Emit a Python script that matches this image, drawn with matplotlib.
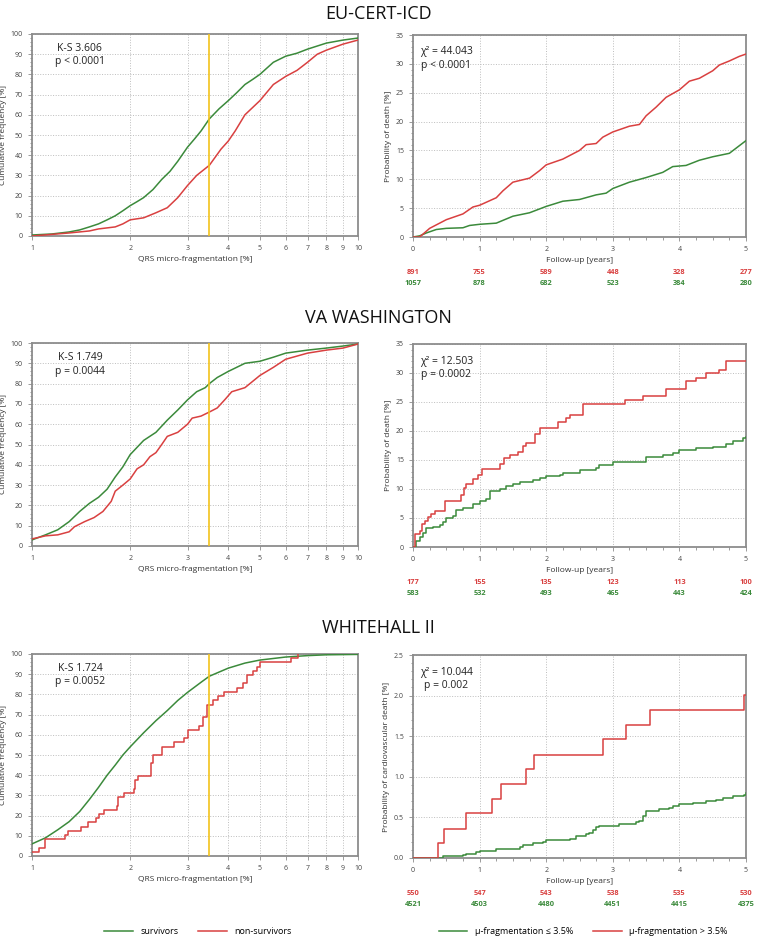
import matplotlib
matplotlib.use("Agg")
import matplotlib.pyplot as plt
from matplotlib.ticker import FixedLocator, MultipleLocator, NullLocator, NullFormatter
from matplotlib.lines import Line2D
import matplotlib.transforms as mtrans

plt.rcParams['font.family'] = ['Open Sans', 'DejaVu Sans']

GREEN = '#3b8a3b'
RED = '#d94040'
YELLOW = '#f2c21b'
SPINE = '#8c8c8c'
GRID = '#bdbdbd'

titles = ["EU-CERT-ICD", "VA WASHINGTON", "WHITEHALL II"]

# ---------- Cumulative distributions (left panels) ----------
eu_surv_x = [1, 1.15, 1.3, 1.4, 1.5, 1.6, 1.7, 1.8, 1.9, 2.0, 2.1, 2.2, 2.35, 2.5, 2.65, 2.8, 3.0, 3.15, 3.3, 3.5, 3.75, 4.0, 4.25, 4.5, 4.75, 5.0, 5.5, 6.0, 6.5, 7.0, 8.0, 9.0, 10.0]
eu_surv_y = [0.5, 1.0, 2, 3, 4.5, 6, 8, 10, 12.5, 15, 17, 19, 23, 28, 32, 37, 44, 48, 52, 58, 63, 67, 71, 75, 77.5, 80, 86, 89, 90.5, 92.5, 95.5, 97, 98]
eu_non_x = [1, 1.3, 1.5, 1.6, 1.8, 1.9, 2.0, 2.2, 2.4, 2.6, 2.8, 3.0, 3.2, 3.5, 3.8, 4.0, 4.2, 4.5, 5.0, 5.5, 6.0, 6.5, 7.0, 7.5, 8.0, 9.0, 10.0]
eu_non_y = [0, 1.5, 2.5, 3.5, 4.5, 6, 8, 9, 11.5, 14, 19, 25, 30, 35, 43, 47, 52, 60, 67, 75, 79, 82, 86, 90, 92, 95, 97]

va_surv_x = [1, 1.1, 1.2, 1.3, 1.4, 1.5, 1.6, 1.7, 1.8, 1.9, 2.0, 2.2, 2.4, 2.6, 2.8, 3.0, 3.2, 3.4, 3.5, 3.7, 4.0, 4.5, 5.0, 5.5, 6.0, 7.0, 8.0, 9.0, 10.0]
va_surv_y = [3, 5.5, 8, 12, 17, 21, 24, 28, 34, 39, 45, 52, 56, 62, 67, 72, 76, 78, 80, 83, 86, 90, 91, 93, 95, 96.5, 97.5, 98.5, 99.5]
va_non_x = [1, 1.1, 1.2, 1.3, 1.35, 1.45, 1.55, 1.65, 1.75, 1.8, 1.9, 2.0, 2.1, 2.2, 2.3, 2.4, 2.5, 2.6, 2.8, 3.0, 3.1, 3.3, 3.5, 3.7, 3.9, 4.1, 4.5, 5.0, 5.5, 6.0, 7.0, 8.0, 9.0, 10.0]
va_non_y = [3.5, 5, 5.5, 7, 9.5, 12, 14, 17, 22, 27, 30, 33, 38, 40, 44, 46, 50, 54, 56, 60, 63, 64, 66, 68, 72, 76, 78, 84, 88, 92, 95, 96.5, 97.5, 99.5]

wh_surv_x = [1, 1.1, 1.2, 1.3, 1.4, 1.5, 1.6, 1.7, 1.8, 1.9, 2.0, 2.2, 2.4, 2.6, 2.8, 3.0, 3.3, 3.5, 4.0, 4.5, 5.0, 6.0, 7.0, 8.0, 10.0]
wh_surv_y = [6, 9, 13, 17, 22, 28, 34, 40, 45, 50, 54, 61, 67, 72, 77, 81, 86, 89, 93, 95.5, 97, 98.5, 99.2, 99.6, 99.8]
wh_non_x = [1, 1.05, 1.1, 1.26, 1.29, 1.41, 1.48, 1.57, 1.61, 1.66, 1.82, 1.84, 1.92, 2.05, 2.07, 2.11, 2.31, 2.35, 2.5, 2.72, 2.93, 3.02, 3.26, 3.35, 3.44, 3.58, 3.71, 3.89, 4.25, 4.44, 4.57, 4.78, 4.9, 5.02, 6.22, 6.53]
wh_non_y = [2.1, 4.2, 8.3, 10.4, 12.5, 14.6, 16.7, 18.8, 20.8, 22.9, 25.0, 29.2, 31.3, 33.3, 37.5, 39.6, 45.8, 50.0, 54.2, 56.3, 58.3, 62.5, 64.6, 68.8, 75.0, 77.1, 79.2, 81.3, 83.3, 85.4, 89.6, 91.7, 93.8, 95.8, 97.9, 100.0]

ks_text = [("K-S 3.606", "p < 0.0001"), ("K-S 1.749", "p = 0.0044"), ("K-S 1.724", "p = 0.0052")]

# ---------- Kaplan-Meier style curves (right panels) ----------
eu_low_t = [0, 0.1, 0.2, 0.35, 0.5, 0.75, 0.85, 1.0, 1.25, 1.5, 1.75, 2.0, 2.25, 2.5, 2.75, 2.9, 3.0, 3.25, 3.5, 3.75, 3.9, 4.1, 4.3, 4.5, 4.75, 5.0]
eu_low_p = [0, 0.2, 0.7, 1.3, 1.5, 1.6, 2.0, 2.2, 2.4, 3.6, 4.2, 5.3, 6.2, 6.5, 7.3, 7.6, 8.4, 9.5, 10.3, 11.2, 12.2, 12.4, 13.3, 13.9, 14.5, 16.7]
eu_high_t = [0, 0.1, 0.25, 0.5, 0.75, 0.9, 1.0, 1.25, 1.35, 1.5, 1.75, 1.9, 2.0, 2.25, 2.5, 2.6, 2.75, 2.85, 3.0, 3.25, 3.4, 3.5, 3.65, 3.8, 4.0, 4.15, 4.3, 4.5, 4.6, 4.75, 4.9, 5.0]
eu_high_p = [0, 0, 1.5, 3.0, 4.0, 5.2, 5.5, 6.8, 8.0, 9.5, 10.2, 11.5, 12.5, 13.5, 15.0, 16.0, 16.2, 17.3, 18.2, 19.2, 19.5, 21.0, 22.5, 24.2, 25.5, 27.0, 27.5, 28.8, 29.8, 30.5, 31.3, 31.7]

va_low_t = [0, 0.05, 0.1, 0.15, 0.2, 0.3, 0.4, 0.45, 0.5, 0.6, 0.65, 0.75, 0.9, 1.0, 1.1, 1.15, 1.3, 1.4, 1.5, 1.6, 1.8, 1.9, 2.0, 2.2, 2.25, 2.5, 2.75, 2.8, 3.0, 3.4, 3.5, 3.75, 3.9, 4.0, 4.25, 4.5, 4.7, 4.8, 4.95, 5.0]
va_low_p = [0, 1.0, 1.8, 2.5, 3.2, 3.5, 3.8, 4.3, 5.0, 5.3, 6.3, 6.8, 7.4, 7.9, 8.2, 9.6, 10.0, 10.5, 10.8, 11.2, 11.5, 11.9, 12.2, 12.4, 12.8, 13.3, 13.6, 14.2, 14.6, 14.7, 15.5, 15.8, 16.2, 16.7, 17.0, 17.3, 17.7, 18.3, 18.8, 19.0]
va_high_t = [0, 0.03, 0.1, 0.13, 0.18, 0.22, 0.27, 0.33, 0.48, 0.72, 0.76, 0.8, 0.9, 0.98, 1.03, 1.3, 1.37, 1.45, 1.57, 1.65, 1.7, 1.83, 1.9, 2.18, 2.3, 2.35, 2.55, 3.18, 3.45, 3.8, 4.1, 4.25, 4.4, 4.6, 4.7, 5.0]
va_high_p = [0, 2.2, 2.7, 4.0, 4.5, 5.2, 5.7, 6.2, 7.9, 9.0, 10.2, 10.8, 11.8, 12.4, 13.5, 14.3, 15.3, 15.8, 16.4, 17.4, 18.0, 19.4, 20.5, 21.6, 22.3, 22.8, 24.7, 25.3, 26.0, 27.3, 28.6, 29.2, 30.0, 30.6, 32.0, 32.0]

wh_low_t = [0, 0.45, 0.75, 0.8, 0.95, 1.0, 1.25, 1.6, 1.65, 1.8, 1.95, 2.0, 2.35, 2.45, 2.6, 2.65, 2.7, 2.75, 2.8, 3.1, 3.35, 3.4, 3.45, 3.5, 3.7, 3.85, 3.9, 4.0, 4.2, 4.4, 4.55, 4.65, 4.8, 4.97, 5.0]
wh_low_p = [0, 0.02, 0.04, 0.05, 0.07, 0.09, 0.11, 0.13, 0.16, 0.18, 0.20, 0.22, 0.24, 0.27, 0.29, 0.31, 0.35, 0.38, 0.40, 0.42, 0.44, 0.46, 0.52, 0.58, 0.60, 0.62, 0.64, 0.66, 0.68, 0.70, 0.72, 0.74, 0.76, 0.78, 0.80]
wh_high_t = [0, 0.38, 0.46, 0.79, 1.19, 1.32, 1.69, 1.81, 2.86, 3.2, 3.56, 4.97, 5.0]
wh_high_p = [0, 0.18, 0.36, 0.55, 0.73, 0.91, 1.09, 1.27, 1.46, 1.64, 1.82, 2.01, 2.01]

chi_text = [("χ² = 44.043", "p < 0.0001"), ("χ² = 12.503", "p = 0.0002"), ("χ² = 10.044", "p = 0.002")]
km_ylabels = ["Probability of death [%]", "Probability of death [%]", "Probability of cardiovascular death [%]"]
km_ymax = [35, 35, 2.5]
km_ymajor = [5, 5, 0.5]
km_yminor = [1, 1, 0.1]

risk_years = [0, 1, 2, 3, 4, 5]
risk_high = [[891, 755, 589, 448, 328, 277], [177, 155, 135, 123, 113, 100], [550, 547, 543, 538, 535, 530]]
risk_low = [[1057, 878, 682, 523, 384, 280], [583, 532, 493, 465, 443, 424], [4521, 4503, 4480, 4451, 4415, 4375]]

cdf_data = [(eu_surv_x, eu_surv_y, eu_non_x, eu_non_y, 'default'),
            (va_surv_x, va_surv_y, va_non_x, va_non_y, 'default'),
            (wh_surv_x, wh_surv_y, wh_non_x, wh_non_y, 'steps-post')]
km_data = [(eu_low_t, eu_low_p, eu_high_t, eu_high_p, 'default'),
           (va_low_t, va_low_p, va_high_t, va_high_p, 'steps-post'),
           (wh_low_t, wh_low_p, wh_high_t, wh_high_p, 'steps-post')]

W, H = 757, 942
fig = plt.figure(figsize=(W / 100, H / 100), dpi=100)

left_boxes = [(32, 358, 34, 236), (32, 358, 343, 546), (32, 358, 654, 856)]
right_boxes = [(413, 746, 35, 237), (413, 746, 344, 547), (413, 746, 655, 858)]
title_y = [14, 318, 628]

def fig_axes(box):
    x0, x1, y0, y1 = box
    return fig.add_axes([x0 / W, 1 - y1 / H, (x1 - x0) / W, (y1 - y0) / H])

def style(ax):
    for s in ax.spines.values():
        s.set_color(SPINE)
        s.set_linewidth(1.3)
    ax.tick_params(axis='both', which='both', direction='out', colors=SPINE,
                   labelcolor='#444444', labelsize=5, width=0.6)
    ax.tick_params(which='major', length=3)
    ax.tick_params(which='minor', length=1.8)
    ax.grid(True, which='major', linestyle=':', color=GRID, linewidth=0.7)
    ax.set_axisbelow(True)

xticks_log = [1, 2, 3, 4, 5, 6, 7, 8, 9, 10]

for i in range(3):
    fig.text(0.5, 1 - title_y[i] / H, titles[i], ha='center', va='center', fontsize=13, color='#111111')

    # ---- left: cumulative frequency
    ax = fig_axes(left_boxes[i])
    style(ax)
    sx, sy, nx, ny, kind = cdf_data[i]
    ax.plot(sx, sy, color=GREEN, lw=1.1, zorder=3)
    ax.plot(nx, ny, color=RED, lw=1.1, drawstyle=kind, zorder=3)
    ax.axvline(3.5, color=YELLOW, lw=1.2, zorder=4)
    ax.set_xscale('log')
    ax.set_xlim(1, 10)
    ax.set_ylim(0, 100)
    ax.xaxis.set_major_locator(FixedLocator(xticks_log))
    ax.xaxis.set_minor_locator(NullLocator())
    ax.xaxis.set_minor_formatter(NullFormatter())
    ax.set_xticklabels([str(t) for t in xticks_log])
    ax.yaxis.set_major_locator(MultipleLocator(10))
    ax.yaxis.set_minor_locator(MultipleLocator(2))
    ax.set_xlabel("QRS micro-fragmentation [%]", fontsize=6, color='#333333', labelpad=3)
    ax.set_ylabel("Cumulative frequency [%]", fontsize=6, color='#333333', labelpad=3)
    ax.text(0.147, 0.93, ks_text[i][0], transform=ax.transAxes, ha='center', va='center', fontsize=7.5, color='#222222')
    ax.text(0.147, 0.862, ks_text[i][1], transform=ax.transAxes, ha='center', va='center', fontsize=7.5, color='#222222')

    # ---- right: probability of death
    ax = fig_axes(right_boxes[i])
    style(ax)
    lt, lp, ht, hp, ds = km_data[i]
    ax.plot(lt, lp, color=GREEN, lw=1.1, drawstyle=ds, zorder=3)
    ax.plot(ht, hp, color=RED, lw=1.1, drawstyle=ds, zorder=3)
    ax.set_xlim(0, 5)
    ax.set_ylim(0, km_ymax[i])
    ax.xaxis.set_major_locator(MultipleLocator(1))
    ax.xaxis.set_minor_locator(MultipleLocator(0.25))
    ax.yaxis.set_major_locator(MultipleLocator(km_ymajor[i]))
    ax.yaxis.set_minor_locator(MultipleLocator(km_yminor[i]))
    if km_ymax[i] < 5:
        ax.yaxis.set_major_formatter(plt.FuncFormatter(lambda v, p: f"{v:.1f}"))
    ax.set_xlabel("Follow-up [years]", fontsize=6, color='#333333', labelpad=3)
    ax.set_ylabel(km_ylabels[i], fontsize=6, color='#333333', labelpad=3)
    ax.text(0.10, 0.916, chi_text[i][0], transform=ax.transAxes, ha='center', va='center', fontsize=7.5, color='#222222')
    ax.text(0.10, 0.851, chi_text[i][1], transform=ax.transAxes, ha='center', va='center', fontsize=7.5, color='#222222')
    tr = mtrans.blended_transform_factory(ax.transData, ax.transAxes)
    for t, nh, nl in zip(risk_years, risk_high[i], risk_low[i]):
        ax.text(t, -0.175, str(nh), transform=tr, ha='center', va='center', fontsize=5.3, fontweight='bold', color=RED)
        ax.text(t, -0.228, str(nl), transform=tr, ha='center', va='center', fontsize=5.3, fontweight='bold', color=GREEN)

# legends
h1 = [Line2D([], [], color=GREEN, lw=1.1), Line2D([], [], color=RED, lw=1.1)]
fig.legend(h1, ["survivors", "non-survivors"], loc='center', bbox_to_anchor=(198 / W, 1 - 932 / H),
           ncol=2, frameon=False, fontsize=6.5, handlelength=3.2, columnspacing=2.2, handletextpad=0.8)
fig.legend(h1, ["μ-fragmentation ≤ 3.5%", "μ-fragmentation > 3.5%"], loc='center',
           bbox_to_anchor=(583 / W, 1 - 932 / H), ncol=2, frameon=False, fontsize=6.5,
           handlelength=3.2, columnspacing=2.2, handletextpad=0.8)

fig.savefig("out.png", dpi=100)
